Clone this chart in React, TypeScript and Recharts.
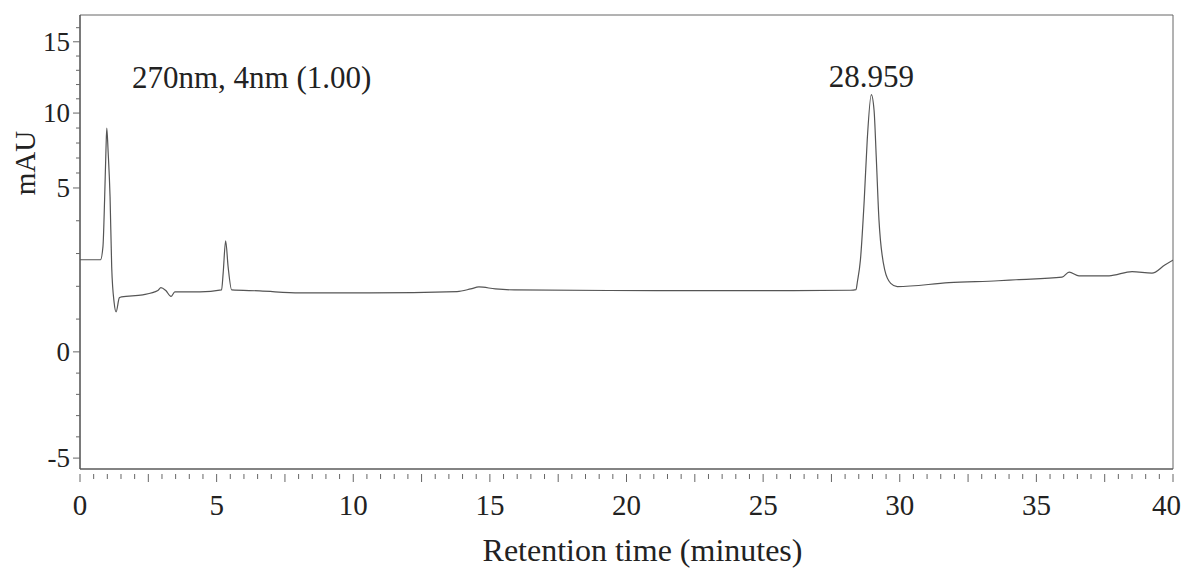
import React from "react";
import { LineChart, Line, XAxis, YAxis, ReferenceArea, ReferenceDot } from "recharts";

const FONT = "'Liberation Serif', 'Times New Roman', Times, serif";
const INK = "#222";
const textStyle = { fontFamily: FONT };

// 270 nm detector trace
const retentionTimes = [
  0, 0.75, 0.84, 0.9, 0.95, 0.98, 1.03, 1.1, 1.16, 1.25, 1.32, 1.44, 1.52, 2.3, 2.85, 2.96, 3.14, 3.33,
  3.47, 4.39, 5.18, 5.24, 5.33, 5.42, 5.55, 6.58, 8.04, 10.6, 13.8, 14.3, 14.6, 15.2, 15.9, 21.1, 25.0,
  28.2, 28.4, 28.45, 28.56, 28.7, 28.81, 28.959, 29.06, 29.14, 29.24, 29.45, 29.67, 29.91, 31.8, 33.6,
  34.26, 35.94, 36.2, 36.56, 37.66, 38.5, 39.23, 39.7, 40,
];
const absorbance = [
  2.81, 2.81, 3.21, 4.63, 7.53, 9.0, 7.4, 4.73, 2.59, 1.5, 1.22, 1.65, 1.68, 1.74, 1.87, 1.96, 1.87, 1.69,
  1.83, 1.83, 1.89, 2.41, 3.39, 2.6, 1.89, 1.86, 1.8, 1.8, 1.84, 1.92, 1.98, 1.92, 1.89, 1.87, 1.87,
  1.88, 1.9, 2.14, 2.8, 4.63, 8.2, 11.3, 10.2, 7.07, 4.02, 2.5, 2.09, 1.99, 2.11, 2.17,
  2.2, 2.28, 2.43, 2.32, 2.32, 2.45, 2.4, 2.65, 2.8,
];

const peakTime = 28.959;
const channelLabel = "270nm, 4nm (1.00)";

const xTickLabels = [0, 5, 10, 15, 20, 25, 30, 35, 40];
const yTickLabels = [-5, 0, 5, 10, 15];

const xDomain: [number, number] = [0, 40];
const yDomain: [number, number] = [-5.52, 16.9];

// the printed mAU axis is not evenly spaced: value stops and where each sits (0 = bottom, 1 = top)
const yAxisStops = [-5.52, -5, 0, 5, 10, 15, 16.9];
const yAxisStopFractions = [0, 0.024, 0.258, 0.619, 0.784, 0.941, 1];

const xTicks = Array.from({ length: 81 }, (_, i) => i * 0.5);
const yTicks = Array.from({ length: 22 }, (_, i) => i - 5);

const data = retentionTimes.map((t, i) => ({ t, mAU: absorbance[i] }));
const peakHeight = absorbance[retentionTimes.indexOf(peakTime)];

// piecewise-linear scale with the d3 interface recharts expects
function segmentedScale(stops: number[], fractions: number[]): any {
  let domain = [stops[0], stops[stops.length - 1]];
  let range = [0, 1];

  const toFraction = (v: number) => {
    let i = 1;
    while (i < stops.length - 1 && v > stops[i]) i++;
    const a = stops[i - 1];
    const b = stops[i];
    return fractions[i - 1] + ((v - a) / (b - a)) * (fractions[i] - fractions[i - 1]);
  };

  const scale: any = (v: number) => range[0] + (range[1] - range[0]) * toFraction(v);
  scale.domain = (d?: number[]) => {
    if (!d) return domain.slice();
    domain = d.slice();
    return scale;
  };
  scale.range = (r?: number[]) => {
    if (!r) return range.slice();
    range = r.slice();
    return scale;
  };
  scale.copy = () => segmentedScale(stops, fractions).domain(domain).range(range);
  scale.ticks = () => yTickLabels.slice();
  scale.invert = (px: number) => {
    const f = (px - range[0]) / (range[1] - range[0]);
    let i = 1;
    while (i < fractions.length - 1 && f > fractions[i]) i++;
    const fa = fractions[i - 1];
    const fb = fractions[i];
    return stops[i - 1] + ((f - fa) / (fb - fa)) * (stops[i] - stops[i - 1]);
  };
  return scale;
}

const signalScale = segmentedScale(yAxisStops, yAxisStopFractions);

function TimeTick({ x, y, payload }: any) {
  const v = payload.value as number;
  const long = Math.abs(v / 2.5 - Math.round(v / 2.5)) < 1e-6;
  // the last label is right-aligned so it stays on the page
  const last = v === xDomain[1];
  return (
    <g>
      <line x1={x} x2={x} y1={y + 5} y2={y + (long ? 13 : 10)} stroke="#666" strokeWidth={1} />
      {xTickLabels.includes(v) && (
        <text
          x={last ? x + 8 : x}
          y={y + 46}
          textAnchor={last ? "end" : "middle"}
          fontSize={29}
          fill={INK}
          fontFamily={FONT}
          style={textStyle}
        >
          {v}
        </text>
      )}
    </g>
  );
}

function SignalTick({ x, y, payload }: any) {
  const v = payload.value as number;
  const labelled = yTickLabels.includes(v);
  return (
    <g>
      <line x1={x - (labelled ? 7 : 4)} x2={x} y1={y} y2={y} stroke="#666" strokeWidth={1} />
      {labelled && (
        <text x={x - 10} y={y + 9} textAnchor="end" fontSize={27} fill={INK} fontFamily={FONT} style={textStyle}>
          {v}
        </text>
      )}
    </g>
  );
}

function TimeTitle({ viewBox }: any) {
  if (!viewBox) return null;
  return (
    <text
      x={viewBox.x + viewBox.width / 2 + 16}
      y={viewBox.y + 92}
      textAnchor="middle"
      fontSize={32}
      fill={INK}
      fontFamily={FONT}
      style={textStyle}
    >
      Retention time (minutes)
    </text>
  );
}

function SignalTitle({ viewBox }: any) {
  if (!viewBox) return null;
  const cx = viewBox.x + 27;
  const cy = viewBox.y + 148;
  return (
    <text
      x={cx}
      y={cy}
      transform={`rotate(-90, ${cx}, ${cy})`}
      textAnchor="middle"
      fontSize={29}
      fill={INK}
      fontFamily={FONT}
      style={textStyle}
    >
      mAU
    </text>
  );
}

function ChannelNote({ viewBox }: any) {
  if (!viewBox) return null;
  return (
    <text x={viewBox.x + 52} y={viewBox.y + 73} fontSize={31} fill={INK} fontFamily={FONT} style={textStyle}>
      {channelLabel}
    </text>
  );
}

function PeakLabel({ viewBox }: any) {
  if (!viewBox) return null;
  return (
    <text
      x={viewBox.x + viewBox.width / 2}
      y={viewBox.y - 8}
      textAnchor="middle"
      fontSize={31}
      fill={INK}
      fontFamily={FONT}
      style={textStyle}
    >
      {peakTime.toFixed(3)}
    </text>
  );
}

export default function App() {
  return (
    <div style={{ width: 1181, height: 565, background: "#fff", fontFamily: FONT }}>
      <style>{"html, body { overflow: hidden; }"}</style>
      <LineChart width={1181} height={565} data={data} margin={{ top: 7, right: 16, bottom: 44, left: 0 }}>
        <XAxis
          dataKey="t"
          type="number"
          domain={xDomain}
          allowDataOverflow
          ticks={xTicks}
          interval={0}
          tick={<TimeTick />}
          tickSize={0}
          tickMargin={0}
          tickLine={false}
          axisLine={{ stroke: "#555", strokeWidth: 1.2 }}
          height={60}
          label={<TimeTitle />}
        />
        <YAxis
          type="number"
          domain={yDomain}
          allowDataOverflow
          scale={signalScale}
          ticks={yTicks}
          interval={0}
          tick={<SignalTick />}
          tickSize={0}
          tickMargin={0}
          tickLine={false}
          axisLine={{ stroke: "#555", strokeWidth: 1.2 }}
          width={72}
          label={<SignalTitle />}
        />
        <ReferenceArea
          x1={xDomain[0]}
          x2={xDomain[1]}
          y1={yDomain[0]}
          y2={yDomain[1]}
          ifOverflow="visible"
          fill="none"
          stroke="#666"
          strokeWidth={1}
          label={<ChannelNote />}
        />
        <Line
          type="monotone"
          dataKey="mAU"
          stroke="#555"
          strokeWidth={1.2}
          dot={false}
          isAnimationActive={false}
        />
        <ReferenceDot
          x={peakTime}
          y={peakHeight}
          r={0}
          fill="none"
          stroke="none"
          ifOverflow="visible"
          label={<PeakLabel />}
        />
      </LineChart>
    </div>
  );
}
